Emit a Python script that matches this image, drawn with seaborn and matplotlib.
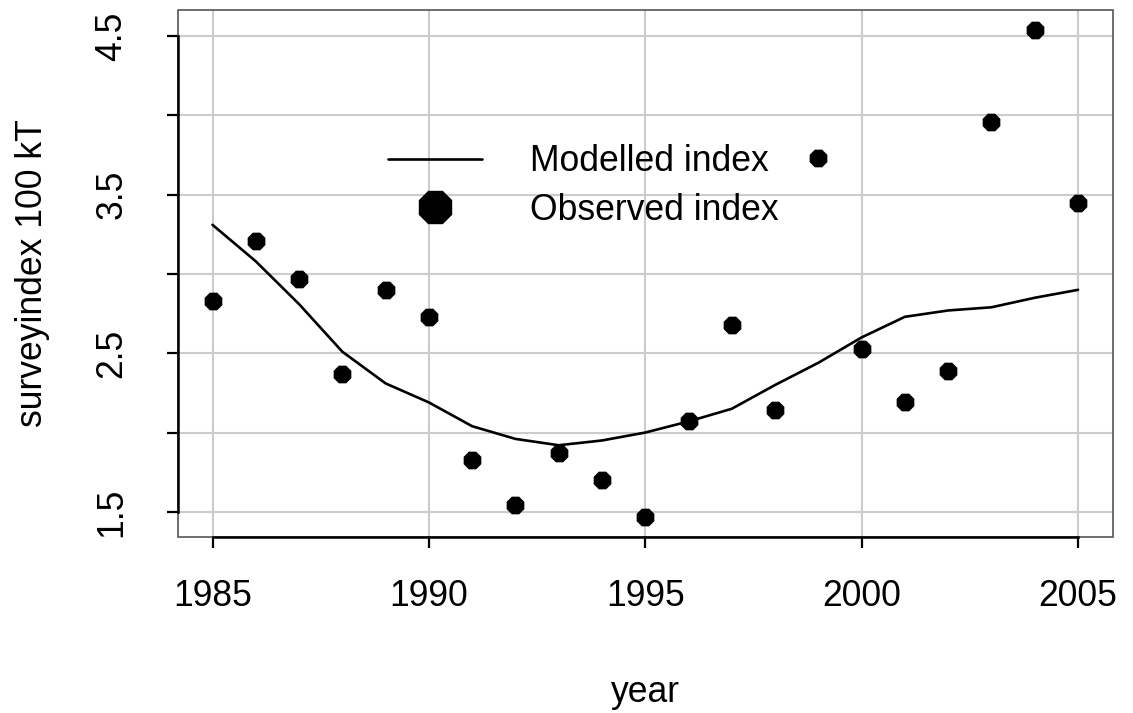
import matplotlib
matplotlib.use("Agg")
import matplotlib.pyplot as plt
import seaborn as sns
from matplotlib.lines import Line2D
from matplotlib.patches import Rectangle

# values
years = [1985, 1986, 1987, 1988, 1989, 1990, 1991, 1992, 1993, 1994,
         1995, 1996, 1997, 1998, 1999, 2000, 2001, 2002, 2003, 2004, 2005]
observed = [2.83, 3.21, 2.97, 2.37, 2.90, 2.73, 1.83, 1.54, 1.87, 1.70,
            1.47, 2.07, 2.68, 2.14, 3.73, 2.53, 2.19, 2.39, 3.96, 4.54, 3.45]
modelled = [3.31, 3.08, 2.81, 2.51, 2.31, 2.19, 2.04, 1.96, 1.92, 1.95,
            2.00, 2.07, 2.15, 2.30, 2.44, 2.60, 2.73, 2.77, 2.79, 2.85, 2.90]
x_ticks = [1985, 1990, 1995, 2000, 2005]
y_ticks = [1.5, 2.0, 2.5, 3.0, 3.5, 4.0, 4.5]
y_labels = ["1.5", "", "2.5", "", "3.5", "", "4.5"]

FS = 25.6

sns.set_style("white")
plt.rcParams['font.family'] = ['Liberation Sans', 'DejaVu Sans']
plt.rcParams['text.color'] = 'black'
plt.rcParams['axes.labelcolor'] = 'black'
plt.rcParams['xtick.color'] = 'black'
plt.rcParams['ytick.color'] = 'black'

fig = plt.figure(figsize=(11.33, 7.13), dpi=100)
ax = fig.add_axes([0.157, 0.247, 0.825, 0.739])

# grid first so data sits on top
for xv in x_ticks:
    ax.axvline(xv, color='#cccccc', lw=1.5, zorder=0)
for yv in y_ticks:
    ax.axhline(yv, color='#cccccc', lw=1.5, zorder=0)

sns.lineplot(x=years, y=modelled, color='black', lw=1.9, ax=ax, zorder=3)
sns.scatterplot(x=years, y=observed, marker='8', s=190, color='black',
                edgecolor='black', linewidth=0, ax=ax, zorder=4)

ax.set_xlim(1984.2, 2005.8)
ax.set_ylim(1.342, 4.665)
ax.set_xticks(x_ticks)
ax.set_xticklabels([str(v) for v in x_ticks])
ax.set_yticks(y_ticks)
ax.set_yticklabels(y_labels, rotation=90, va='center')

# R style: thin grey box, black axis lines from first to last tick
for side in ['top', 'right', 'left', 'bottom']:
    ax.spines[side].set_visible(False)
ax.add_patch(Rectangle((0, 0), 1, 1, transform=ax.transAxes, fill=False,
                       edgecolor='#555555', lw=1.2, zorder=5, clip_on=False))
for side, lo, hi in [('left', 1.5, 4.5), ('bottom', 1985, 2005)]:
    ax.spines[side].set_visible(True)
    ax.spines[side].set_bounds(lo, hi)
    ax.spines[side].set_color('black')
    ax.spines[side].set_linewidth(1.8)
    ax.spines[side].set_zorder(6)

ax.tick_params(axis='both', direction='out', length=8, width=1.6,
               color='black', labelcolor='black', labelsize=FS,
               left=True, bottom=True)
ax.tick_params(axis='x', pad=22)
ax.tick_params(axis='y', pad=27)

ax.set_xlabel('year', fontsize=FS, labelpad=44)
ax.set_ylabel('surveyindex 100 kT', fontsize=FS, labelpad=32)

handles = [Line2D([], [], color='black', lw=1.9),
           Line2D([], [], color='black', marker='8', ls='', markersize=25)]
ax.legend(handles, ['Modelled index', 'Observed index'], frameon=False,
          fontsize=FS, loc='upper left', bbox_to_anchor=(0.3425, 0.798),
          bbox_transform=fig.transFigure, borderpad=0, borderaxespad=0,
          handlelength=2.65, handletextpad=1.35, labelspacing=0.38)

fig.savefig('out.png', dpi=100)
